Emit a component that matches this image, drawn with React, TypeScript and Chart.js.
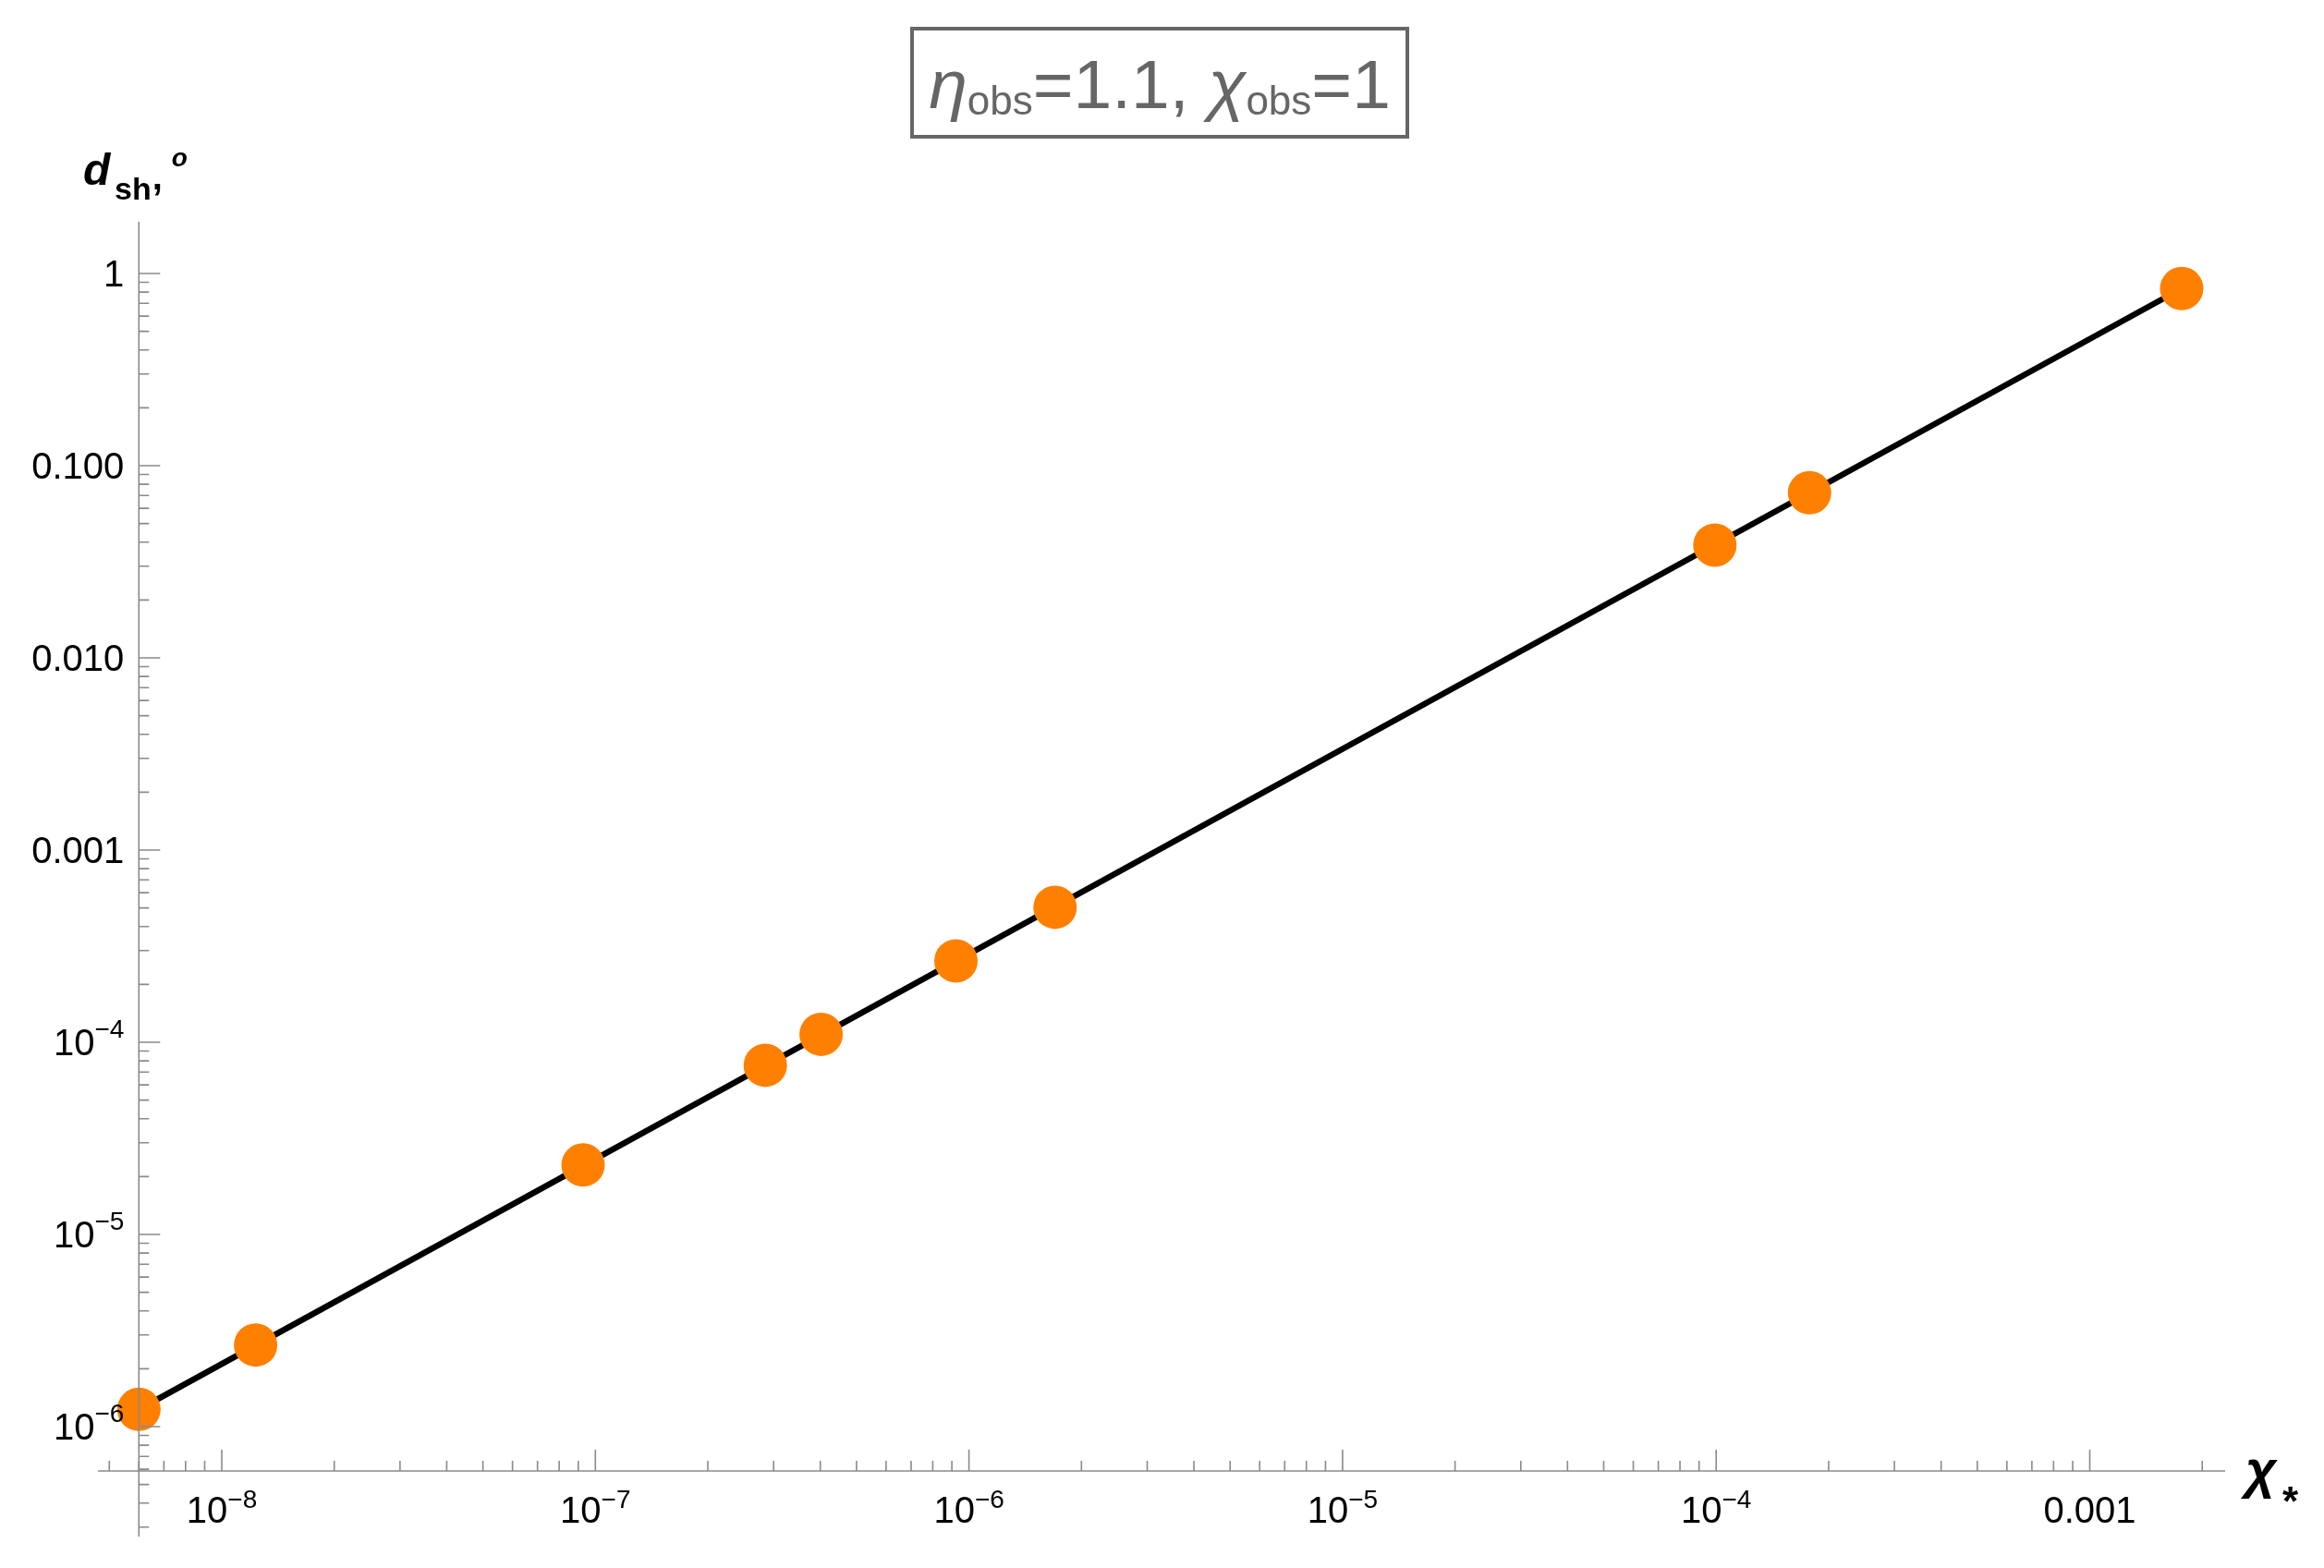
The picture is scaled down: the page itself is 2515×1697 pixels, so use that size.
import React, { useEffect, useRef } from "react";
import { Chart, registerables } from "chart.js";

Chart.register(...registerables);

// ---- data ----
const xValues = [6.0e-9, 1.232e-8, 9.27e-8, 2.85e-7, 4.02e-7, 9.23e-7, 1.70e-6, 9.92e-5, 1.778e-4, 1.762e-3];
const yValues = [1.23e-6, 2.66e-6, 2.30e-5, 7.59e-5, 1.10e-4, 2.65e-4, 5.04e-4, 0.0386, 0.0723, 0.835];
const fitX = [6.0e-9, 1.762e-3];
const fitY = [1.23e-6, 0.835];

const xMajorTicks = [1e-8, 1e-7, 1e-6, 1e-5, 1e-4, 1e-3];
const xTickBase = ["10", "10", "10", "10", "10", "0.001"];
const xTickSup = ["−8", "−7", "−6", "−5", "−4", ""];
const yMajorTicks = [1, 0.1, 0.01, 0.001, 1e-4, 1e-5, 1e-6];
const yTickBase = ["1", "0.100", "0.010", "0.001", "10", "10", "10"];
const yTickSup = ["", "", "", "", "−4", "−5", "−6"];

const xRange = [4.662e-9, 2.303e-3];
const yRange = [2.679e-7, 1.858];
const axisCrossX = 6.0e-9;
const axisCrossY = 5.876e-7;

const FONT = '"Liberation Sans", Arial, Helvetica, sans-serif';

function drawSupLabel(
  ctx: CanvasRenderingContext2D,
  base: string,
  sup: string,
  x: number,
  baseline: number,
  align: "center" | "right",
  raise: number
) {
  ctx.textAlign = "left";
  ctx.textBaseline = "alphabetic";
  ctx.font = `40px ${FONT}`;
  const wb = ctx.measureText(base).width;
  ctx.font = `28px ${FONT}`;
  const ws = sup ? ctx.measureText(sup).width : 0;
  const total = wb + ws;
  const start = align === "center" ? x - total / 2 : x - total;
  ctx.font = `40px ${FONT}`;
  ctx.fillText(base, start, baseline);
  if (sup) {
    ctx.font = `28px ${FONT}`;
    ctx.fillText(sup, start + wb, baseline - raise);
  }
}

const axesPlugin = {
  id: "mathematicaAxes",
  afterDatasetsDraw(chart: any) {
    const ctx: CanvasRenderingContext2D = chart.ctx;
    const xs = chart.scales.x;
    const ys = chart.scales.y;
    const ca = chart.chartArea;
    const ax = xs.getPixelForValue(axisCrossX);
    const ay = ys.getPixelForValue(axisCrossY);
    ctx.save();
    ctx.strokeStyle = "#8a8a8a";
    ctx.lineWidth = 1.6;
    ctx.beginPath();
    ctx.moveTo(ca.left, ay);
    ctx.lineTo(ca.right, ay);
    ctx.moveTo(ax, ca.top);
    ctx.lineTo(ax, ca.bottom);
    ctx.stroke();

    // x ticks
    ctx.beginPath();
    for (let e = Math.floor(Math.log10(xRange[0])); e <= Math.ceil(Math.log10(xRange[1])); e++) {
      for (let m = 1; m <= 9; m++) {
        const v = m * Math.pow(10, e);
        if (v < xRange[0] || v > xRange[1]) continue;
        const px = xs.getPixelForValue(v);
        const len = m === 1 ? 23 : 11;
        ctx.moveTo(px, ay);
        ctx.lineTo(px, ay - len);
      }
    }
    // y ticks
    for (let e = Math.floor(Math.log10(yRange[0])); e <= Math.ceil(Math.log10(yRange[1])); e++) {
      for (let m = 1; m <= 9; m++) {
        const v = m * Math.pow(10, e);
        if (v < yRange[0] || v > yRange[1]) continue;
        const py = ys.getPixelForValue(v);
        const len = m === 1 ? 23 : 11;
        ctx.moveTo(ax, py);
        ctx.lineTo(ax + len, py);
      }
    }
    ctx.stroke();

    // tick labels
    ctx.fillStyle = "#000";
    xMajorTicks.forEach((v, i) => {
      const px = xs.getPixelForValue(v);
      drawSupLabel(ctx, xTickBase[i], xTickSup[i], px, ay + 56, "center", 16);
    });
    yMajorTicks.forEach((v, i) => {
      const py = ys.getPixelForValue(v);
      drawSupLabel(ctx, yTickBase[i], yTickSup[i], ax - 16, py + 14, "right", 19);
    });

    // axis titles
    ctx.textAlign = "left";
    ctx.textBaseline = "alphabetic";
    ctx.font = `italic bold 48px ${FONT}`;
    ctx.fillText("d", 90, 200);
    ctx.font = `bold 34px ${FONT}`;
    const wsh = ctx.measureText("sh").width;
    ctx.fillText("sh", 124, 216);
    ctx.font = `bold 40px ${FONT}`;
    const xc = 124 + wsh + 1;
    ctx.fillText(",", xc, 205);
    const wc = ctx.measureText(",").width;
    ctx.font = `italic bold 28px ${FONT}`;
    ctx.fillText("o", xc + wc + 10, 180);

    ctx.font = `italic bold 58px ${FONT}`;
    ctx.fillText("χ", 2430, 1610);
    ctx.font = `bold 44px ${FONT}`;
    ctx.fillText("*", 2470, 1640);

    // title box
    const cx = 1255;
    ctx.strokeStyle = "#666";
    ctx.lineWidth = 4;
    ctx.strokeRect(987, 31, 536, 117);
    const pieces = [
      { t: "η", f: `italic 75px ${FONT}`, dy: 0 },
      { t: "obs", f: `44px ${FONT}`, dy: 7 },
      { t: "=1.1, ", f: `75px ${FONT}`, dy: 0 },
      { t: "χ", f: `italic 75px ${FONT}`, dy: 0 },
      { t: "obs", f: `44px ${FONT}`, dy: 7 },
      { t: "=1", f: `75px ${FONT}`, dy: 0 },
    ];
    let total = 0;
    const widths = pieces.map((p) => {
      ctx.font = p.f;
      const w = ctx.measureText(p.t).width;
      total += w;
      return w;
    });
    let xpos = cx - total / 2;
    ctx.fillStyle = "#666";
    pieces.forEach((p, i) => {
      ctx.font = p.f;
      ctx.fillText(p.t, xpos, 117 + p.dy);
      xpos += widths[i];
    });
    ctx.restore();
  },
};

export default function App() {
  const ref = useRef<HTMLCanvasElement>(null);
  useEffect(() => {
    const canvas = ref.current!;
    const chart = new Chart(canvas, {
      type: "scatter",
      data: {
        datasets: [
          {
            label: "points",
            data: xValues.map((x, i) => ({ x, y: yValues[i] })),
            showLine: false,
            pointRadius: 23.5,
            pointHoverRadius: 23.5,
            pointBackgroundColor: "#FF8000",
            pointBorderWidth: 0,
            backgroundColor: "#FF8000",
            borderColor: "#FF8000",
            clip: false,
          } as any,
          {
            label: "fit",
            data: fitX.map((x, i) => ({ x, y: fitY[i] })),
            showLine: true,
            pointRadius: 0,
            borderColor: "#000",
            borderWidth: 6.5,
            fill: false,
            clip: false,
          } as any,
        ],
      },
      options: {
        responsive: false,
        animation: false,
        devicePixelRatio: 1,
        events: [],
        layout: { padding: { left: 106, right: 107, top: 240, bottom: 34 } },
        plugins: {
          legend: { display: false },
          title: { display: false },
          tooltip: { enabled: false },
        },
        scales: {
          x: { type: "logarithmic", min: xRange[0], max: xRange[1], bounds: "data", display: false },
          y: { type: "logarithmic", min: yRange[0], max: yRange[1], bounds: "data", display: false },
        },
      } as any,
      plugins: [axesPlugin],
    });
    return () => chart.destroy();
  }, []);
  return (
    <div style={{ position: "fixed", left: 0, top: 0, width: 2515, height: 1697, background: "#fff" }}>
      <canvas ref={ref} width={2515} height={1697} style={{ width: 2515, height: 1697, display: "block" }} />
    </div>
  );
}
